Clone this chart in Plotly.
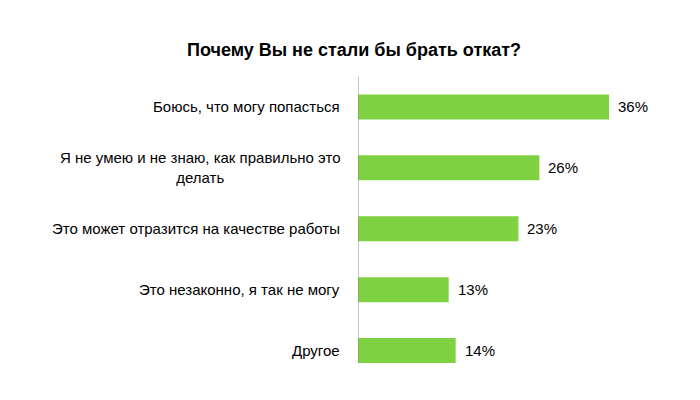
import plotly.graph_objects as go

title = "Почему Вы не стали бы брать откат?"
categories = [
    "Боюсь, что могу попасться",
    "Я не умею и не знаю, как правильно это<br>делать",
    "Это может отразится на качестве работы",
    "Это незаконно, я так не могу",
    "Другое",
]
values = [36, 26, 23, 13, 14]
value_labels = ["36%", "26%", "23%", "13%", "14%"]

BARGAP = 0.59
AXIS_COLOR = "#8C8C8C"

fig = go.Figure()
fig.add_trace(go.Bar(
    y=categories, x=values, orientation="h",
    marker=dict(color="#7ED140", line=dict(width=0)),
    hoverinfo="skip",
))

font_family = "Liberation Sans, Arial, sans-serif"
annotations = []
for c, v, t in zip(categories, values, value_labels):
    annotations.append(dict(
        x=v, y=c, xref="x", yref="y", text=t, showarrow=False,
        xanchor="left", yanchor="middle", xshift=7,
        font=dict(family=font_family, size=15, color="#000000"),
    ))
    annotations.append(dict(
        x=0, y=c, xref="x", yref="y", text=c, showarrow=False,
        xanchor="right", yanchor="middle", xshift=-16, align="center",
        font=dict(family=font_family, size=15, color="#000000"),
    ))

# category axis line: from top boundary down to the bottom edge of the last bar
n = len(categories)
shapes = [dict(
    type="line", xref="x", yref="y", x0=0, x1=0,
    y0=-0.5, y1=(n - 1) + (1 - BARGAP) / 2,
    line=dict(color=AXIS_COLOR, width=1),
)]
# tick marks on category boundaries (except the bottom one)
for i in range(n):
    shapes.append(dict(
        type="line", xref="x", yref="y", xsizemode="pixel", xanchor=0,
        x0=-5, x1=0, y0=i - 0.5, y1=i - 0.5,
        line=dict(color=AXIS_COLOR, width=1),
    ))

fig.update_layout(
    width=692, height=392,
    margin=dict(l=350, r=63, t=68, b=19),
    paper_bgcolor="white", plot_bgcolor="white",
    showlegend=False,
    bargap=BARGAP,
    title=dict(
        text="<b>" + title + "</b>", x=0.5, xanchor="center",
        y=0.893, yanchor="middle",
        font=dict(family=font_family, size=18, color="#000000"),
    ),
    xaxis=dict(range=[0, 40], visible=False, fixedrange=True),
    yaxis=dict(
        autorange="reversed", showticklabels=False,
        showline=False, ticks="",
        showgrid=False, zeroline=False,
    ),
    annotations=annotations,
    shapes=shapes,
)

fig.write_html("out.html")
